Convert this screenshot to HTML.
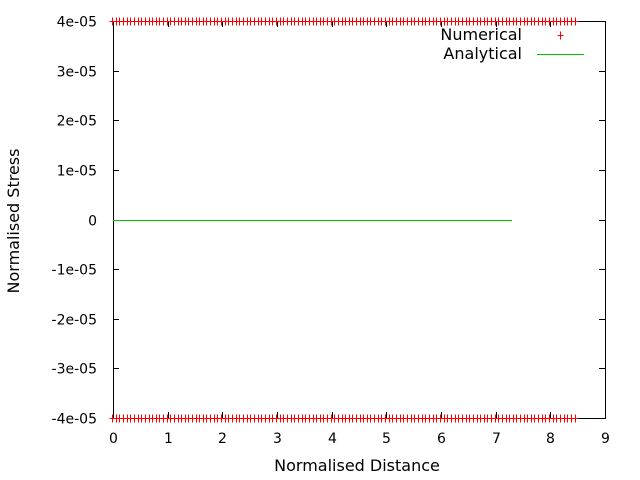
<!DOCTYPE html>
<html><head><meta charset="utf-8"><style>
body{margin:0;background:#fff}
svg{display:block;font-family:"DejaVu Sans","Liberation Sans",sans-serif;font-size:14px}
.big{font-size:16px}
</style></head><body>
<svg id="c" width="640" height="480"></svg>
<script>
const xTicks=[0,1,2,3,4,5,6,7,8,9];
const yTicks=[-4e-5,-3e-5,-2e-5,-1e-5,0,1e-5,2e-5,3e-5,4e-5];
const yTickLabels=["-4e-05","-3e-05","-2e-05","-1e-05","0","1e-05","2e-05","3e-05","4e-05"];
const numTopX=[-0.02,0.05,0.11,0.18,0.25,0.31,0.38,0.45,0.51,0.58,0.65,0.71,0.78,0.85,0.91,0.98,1.05,1.11,1.18,1.25,1.31,1.38,1.45,1.51,1.58,1.65,1.71,1.78,1.85,1.91,1.98,2.05,2.11,2.18,2.25,2.31,2.38,2.45,2.51,2.58,2.65,2.71,2.78,2.85,2.91,2.98,3.05,3.11,3.18,3.25,3.31,3.38,3.45,3.51,3.58,3.65,3.71,3.78,3.85,3.91,3.98,4.05,4.11,4.18,4.25,4.31,4.38,4.45,4.51,4.58,4.65,4.71,4.78,4.85,4.91,4.98,5.05,5.11,5.18,5.25,5.31,5.38,5.45,5.51,5.58,5.65,5.71,5.78,5.85,5.91,5.98,6.05,6.11,6.18,6.25,6.31,6.38,6.45,6.51,6.58,6.65,6.71,6.78,6.85,6.91,6.98,7.05,7.11,7.18,7.25,7.31,7.38,7.45,7.51,7.58,7.65,7.71,7.78,7.85,7.91,7.98,8.05,8.11,8.18,8.25,8.31,8.38,8.45];
const numTopY=numTopX.map(()=>4e-5);
const numBotX=numTopX;
const numBotY=numTopX.map(()=>-4e-5);
const anaX=[0,7.3];
const anaY=[0,0];

const L=113,R=605,T=21,B=418;
const sx=v=>L+(v-0)/9*(R-L);
const sy=v=>B-(v+4e-5)/8e-5*(B-T);
const svg=document.getElementById('c');
const NS='http://www.w3.org/2000/svg';
function mk(tag,at,parent){const e=document.createElementNS(NS,tag);for(const k in at)e.setAttribute(k,at[k]);(parent||svg).appendChild(e);return e;}

xTicks.forEach(t=>{
  const x=Math.round(sx(t))+0.5;
  const g=mk('g',{});
  
  
  mk('line',{x1:x,y1:B,x2:x,y2:B-6,stroke:'#000'},g);
  mk('line',{x1:x,y1:T,x2:x,y2:T+6,stroke:'#000'},g);
  const tx=mk('text',{x:x,y:443,'text-anchor':'middle'},g);tx.textContent=t;
});
yTicks.forEach((t,i)=>{
  const y=Math.round(sy(t))+0.5;
  const g=mk('g',{});
  
  
  mk('line',{x1:L,y1:y,x2:L+6,y2:y,stroke:'#000'},g);
  mk('line',{x1:R,y1:y,x2:R-6,y2:y,stroke:'#000'},g);
  const tx=mk('text',{x:97,y:y+5,'text-anchor':'end'},g);tx.textContent=yTickLabels[i];
});
const frame=mk('rect',{x:L+0.5,y:T+0.5,width:R-L,height:B-T,fill:'none',stroke:'#000'});



const ana=mk('polyline',{points:anaX.map((x,i)=>sx(x)+','+(Math.round(sy(anaY[i]))+0.5)).join(' '),fill:'none',stroke:'#00c000','shape-rendering':'crispEdges'});



function plus(x,y,name){
  x=Math.round(x)+0.5;y=Math.round(y)+0.5;
  const p=mk('path',{d:`M${x-3},${y}h6M${x},${y-4}v8`,stroke:'#f00','stroke-width':1,'shape-rendering':'crispEdges'});
  
  
}
numTopX.forEach((x,i)=>plus(sx(x),sy(numTopY[i]),'numerical-point'));
numBotX.forEach((x,i)=>plus(sx(x),sy(numBotY[i]),'numerical-point'));

const lg=mk('g',{});


let t1=mk('text',{x:522,y:40,'text-anchor':'end',class:'big'},lg);t1.textContent='Numerical';
mk('path',{d:'M557.5,35.5h6M560.5,31.5v8',stroke:'#f00','shape-rendering':'crispEdges'},lg);
let t2=mk('text',{x:522,y:59,'text-anchor':'end',class:'big'},lg);t2.textContent='Analytical';
mk('line',{x1:537,y1:54.5,x2:584,y2:54.5,stroke:'#00c000','shape-rendering':'crispEdges'},lg);

const xt=mk('text',{x:357,y:471,'text-anchor':'middle',class:'big'});xt.textContent='Normalised Distance';


const yt=mk('text',{x:0,y:0,'text-anchor':'middle',class:'big',transform:'translate(19,221) rotate(-90)'});yt.textContent='Normalised Stress';


</script>
</body></html>
